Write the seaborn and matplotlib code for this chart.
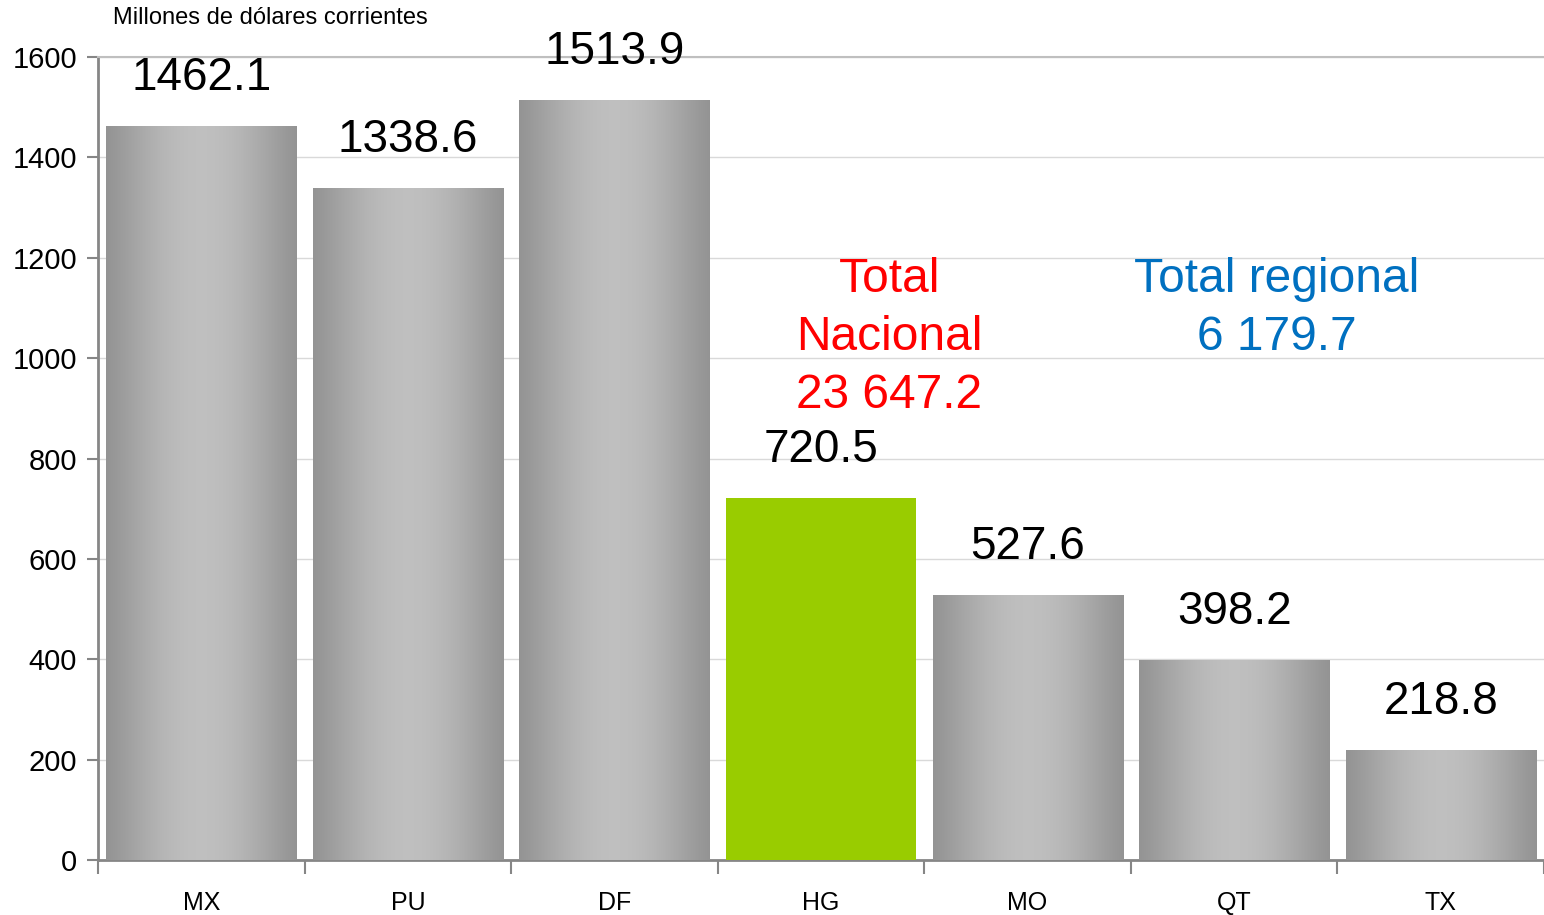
import numpy as np
import pandas as pd
import matplotlib
matplotlib.use('Agg')
import matplotlib.pyplot as plt
import seaborn as sns

# Datos del gráfico
estados = ['MX', 'PU', 'DF', 'HG', 'MO', 'QT', 'TX']
valores = [1462.1, 1338.6, 1513.9, 720.5, 527.6, 398.2, 218.8]
etiquetas = ['1462.1', '1338.6', '1513.9', '720.5', '527.6', '398.2', '218.8']
destacado = 'HG'
texto_nacional = ['Total', 'Nacional', '23 647.2']
texto_regional = ['Total regional', '6 179.7']
unidad = 'Millones de dólares corrientes'

sns.set_theme(style='white')
plt.rcParams['font.family'] = ['Liberation Sans', 'DejaVu Sans']
plt.rcParams['text.color'] = 'black'
plt.rcParams['xtick.color'] = 'black'
plt.rcParams['ytick.color'] = 'black'

df = pd.DataFrame({'estado': estados, 'valor': valores})
colores = {e: ('#99CC00' if e == destacado else '#A8A8A8') for e in estados}

fig = plt.figure(figsize=(15.44, 9.15), dpi=100)
ax = fig.add_axes([98 / 1544, 55 / 915, 1446 / 1544, 803 / 915])

sns.barplot(data=df, x='estado', y='valor', hue='estado', palette=colores,
            legend=False, width=0.92, saturation=1, linewidth=0, ax=ax, zorder=3)

# Degradado gris sobre las barras (excepto la destacada)
t = np.linspace(0, 1, 256)
gris = 0.58 + 0.17 * np.sin(np.pi * t) ** 1.2
grad = np.dstack([gris, gris, gris]).repeat(2, axis=0)
for p, e in zip(ax.patches, estados):
    if e == destacado:
        continue
    x0, w, h = p.get_x(), p.get_width(), p.get_height()
    im = ax.imshow(grad, extent=[x0, x0 + w, 0, h], aspect='auto', zorder=4,
                   interpolation='bilinear')
    im.set_clip_path(p)

# Etiquetas de valores
for i, (v, txt) in enumerate(zip(valores, etiquetas)):
    ax.text(i, v + 96, txt, ha='center', va='center', fontsize=33,
            color='black', zorder=5, clip_on=False)

# Totales
for k, linea in enumerate(texto_nacional):
    ax.text(3.33, 1156 - k * 115, linea, ha='center', va='center',
            fontsize=34.5, color='#FF0000')
for k, linea in enumerate(texto_regional):
    ax.text(5.206, 1156 - k * 115, linea, ha='center', va='center',
            fontsize=34.5, color='#0070C0')

ax.set_ylim(0, 1600)
ax.set_xlim(-0.5, 6.47)
ax.set_yticks(np.arange(0, 1601, 200))
ax.set_yticklabels([str(v) for v in range(0, 1601, 200)], fontsize=21)
ax.yaxis.grid(True, color='#D9D9D9', linewidth=1, zorder=0)
ax.set_axisbelow(True)

ax.set_xticks(np.arange(-0.5, 7, 1))
ax.set_xticklabels([])
ax.set_xticks(np.arange(7), minor=True)
ax.set_xticklabels(estados, minor=True, fontsize=18)
ax.tick_params(axis='x', which='major', direction='out', length=10, width=1.5,
               color='#868686', bottom=True)
ax.tick_params(axis='x', which='minor', length=0, pad=22)
ax.tick_params(axis='y', direction='out', length=8, width=1.5, color='#868686',
               left=True, pad=7)
ax.set_xlabel('')
ax.set_ylabel('')

for lado in ['left', 'bottom']:
    ax.spines[lado].set_color('#868686')
    ax.spines[lado].set_linewidth(2)
ax.spines['top'].set_color('#BFBFBF')
ax.spines['top'].set_linewidth(1.5)
ax.spines['right'].set_visible(False)

fig.text(113 / 1544, 1 - 18 / 915, unidad, ha='left', va='center', fontsize=17)

plt.savefig('out.png', dpi=100)
plt.close()
